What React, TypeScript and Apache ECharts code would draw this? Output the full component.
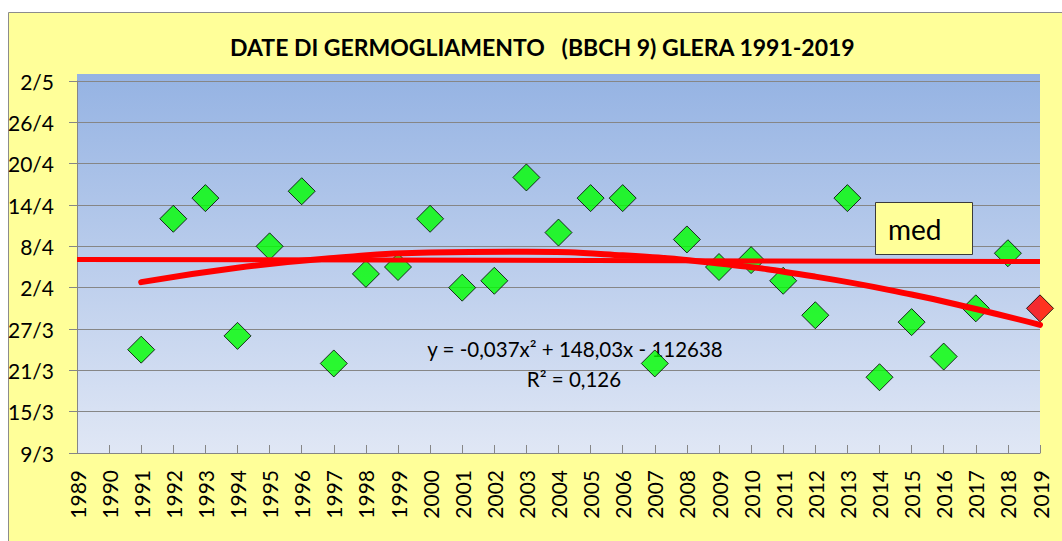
import React, { useEffect, useRef } from "react";
import * as echarts from "echarts";

// Years and budbreak dates (d/m)
const years = [1991, 1992, 1993, 1994, 1995, 1996, 1997, 1998, 1999, 2000, 2001, 2002, 2003, 2004, 2005, 2006, 2007, 2008, 2009, 2010, 2011, 2012, 2013, 2014, 2015, 2016, 2017, 2018];
const dates = ["24/3", "12/4", "15/4", "26/3", "8/4", "16/4", "22/3", "4/4", "5/4", "12/4", "2/4", "3/4", "18/4", "10/4", "15/4", "15/4", "22/3", "9/4", "5/4", "6/4", "3/4", "29/3", "15/4", "20/3", "28/3", "23/3", "30/3", "7/4"];
const lastYears = [2019];
const lastDates = ["30/3"];

// Polynomial trend line, read at several years (days after 9 March)
const trendYears = [1991, 1994, 1997, 2000, 2003, 2006, 2009, 2012, 2015, 2017, 2019];
const trendDays = [24.8, 26.9, 28.3, 29.1, 29.2, 28.7, 27.5, 25.6, 23.0, 20.9, 18.6];

// "med" line (days after 9 March)
const medYears = [1989, 2019];
const medDays = [28.1, 27.8];

// Axis ranges
const xMin = 1989;
const xMax = 2019;
const yStartDate = "9/3";
const yEndDate = "2/5";
const yStepDays = 6;

const equationText = "y = -0,037x² + 148,03x - 112638";
const r2Text = "R² = 0,126";
const titleText = "DATE DI GERMOGLIAMENTO   (BBCH 9) GLERA 1991-2019";
const medLabel = "med";

const MONTH_START = [0, 31, 59, 90, 120, 151, 181, 212, 243, 273, 304, 334];
function doy(s: string): number {
  const [d, m] = s.split("/").map(Number);
  return MONTH_START[m - 1] + d;
}
const BASE = doy(yStartDate);
function toAxis(s: string): number {
  return doy(s) - BASE;
}
function fromAxis(v: number): string {
  const n = Math.round(v) + BASE;
  let m = 11;
  while (m > 0 && MONTH_START[m] >= n) m--;
  return `${n - MONTH_START[m]}/${m + 1}`;
}

const FONT = "Lato";

export default function App() {
  const ref = useRef<HTMLDivElement>(null);
  useEffect(() => {
    if (!ref.current) return;
    const chart = echarts.init(ref.current, undefined, { renderer: "svg" });
    const gray = "#868686";
    chart.setOption({
      animation: false,
      textStyle: { fontFamily: FONT },
      title: {
        text: titleText,
        left: 225,
        top: 30,
        textStyle: { fontSize: 23, fontWeight: "bold", color: "#000", fontFamily: FONT },
      },
      grid: { left: 77, top: 81, right: 22, bottom: 88 },
      xAxis: {
        type: "value",
        min: xMin,
        max: xMax,
        interval: 1,
        axisLine: { show: true, lineStyle: { color: gray, width: 1 } },
        axisTick: { show: true, inside: true, length: 8, lineStyle: { color: gray } },
        axisLabel: { rotate: 90, margin: 17, fontSize: 21, color: "#000", fontFamily: FONT, formatter: (v: number) => String(v) },
        splitLine: { show: false },
      },
      yAxis: {
        type: "value",
        min: 0,
        max: toAxis(yEndDate),
        interval: yStepDays,
        axisLine: { show: true, lineStyle: { color: gray, width: 1 } },
        axisTick: { show: true, length: 8, lineStyle: { color: gray } },
        axisLabel: { margin: 23, fontSize: 21, color: "#000", fontFamily: FONT, formatter: (v: number) => fromAxis(v) },
        splitLine: { show: true, lineStyle: { color: gray, width: 1 } },
      },
      graphic: [
        {
          type: "rect",
          silent: true,
          z: -20,
          shape: { x: 8.5, y: 12.5, width: 1100, height: 600 },
          style: { fill: "#FFFF99", stroke: "#8C8C8C", lineWidth: 1 },
        },
        {
          type: "rect",
          silent: true,
          z: -10,
          shape: { x: 77, y: 74, width: 963, height: 379 },
          style: {
            fill: new echarts.graphic.LinearGradient(0, 0, 0, 1, [
              { offset: 0, color: "#95B3E3" },
              { offset: 1, color: "#E0E7F5" },
            ]),
          },
        },
        {
          type: "text",
          z: 1,
          x: 575,
          y: 349,
          style: { text: equationText, fontSize: 20.5, fontFamily: FONT, fill: "#000", align: "center", verticalAlign: "middle" },
        },
        {
          type: "text",
          z: 1,
          x: 574,
          y: 379,
          style: { text: r2Text, fontSize: 20.5, fontFamily: FONT, fill: "#000", align: "center", verticalAlign: "middle" },
        },
        {
          type: "rect",
          z: 10,
          shape: { x: 875.5, y: 202.5, width: 97, height: 52 },
          style: { fill: "#FFFF99", stroke: "#3A3A3A", lineWidth: 1 },
        },
        {
          type: "text",
          z: 11,
          x: 888,
          y: 229,
          style: { text: medLabel, fontSize: 28, fontFamily: FONT, fill: "#000", align: "left", verticalAlign: "middle" },
        },
      ],
      series: [
        {
          type: "scatter",
          z: 2,
          symbol: "diamond",
          symbolSize: 27,
          itemStyle: { color: "#00FF00", borderColor: "#000", borderWidth: 1 },
          data: years.map((y, i) => [y, toAxis(dates[i])]),
        },
        {
          type: "scatter",
          z: 2,
          symbol: "diamond",
          symbolSize: 27,
          itemStyle: { color: "#FF0000", borderColor: "#000", borderWidth: 1 },
          data: lastYears.map((y, i) => [y, toAxis(lastDates[i])]),
        },
        {
          type: "line",
          z: 3,
          symbol: "none",
          lineStyle: { color: "#FF0000", width: 5, cap: "butt" },
          data: medYears.map((y, i) => [y, medDays[i]]),
        },
        {
          type: "line",
          z: 4,
          symbol: "none",
          smooth: true,
          lineStyle: { color: "#FF0000", width: 6, cap: "round" },
          data: trendYears.map((y, i) => [y, trendDays[i]]),
        },
      ],
    });
    return () => chart.dispose();
  }, []);
  return <div ref={ref} style={{ position: "absolute", left: 0, top: 0, width: 1062, height: 541 }} />;
}
